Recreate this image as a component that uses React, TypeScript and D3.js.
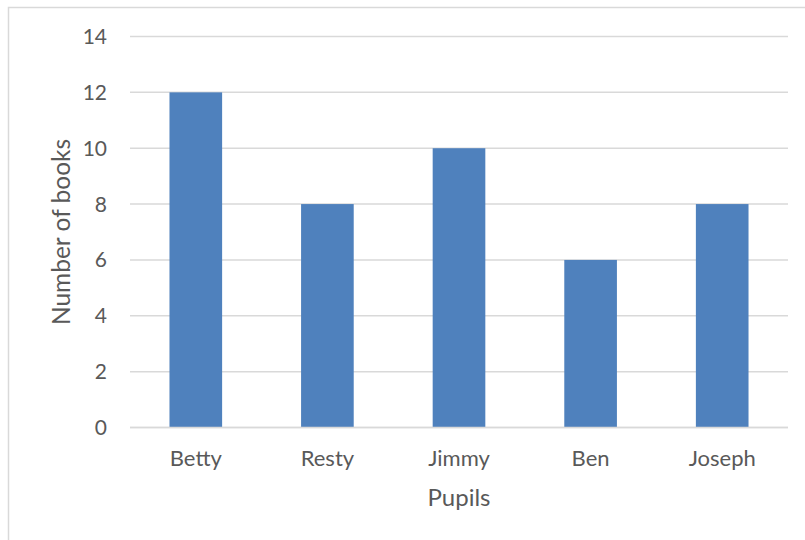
import React from "react";
import * as d3 from "d3";

const pupils = ["Betty", "Resty", "Jimmy", "Ben", "Joseph"];
const books = [12, 8, 10, 6, 8];
const yTicks = [0, 2, 4, 6, 8, 10, 12, 14];
const xTitle = "Pupils";
const yTitle = "Number of books";

const W = 805;
const H = 540;
const plot = { left: 130, right: 788, top: 36.5, bottom: 427.5 };
const FONT = "Lato, 'Open Sans', sans-serif";
const TEXT = "#595959";

export default function App() {
  const x = d3
    .scaleBand<string>()
    .domain(pupils)
    .range([plot.left, plot.right])
    .paddingInner(0.6)
    .paddingOuter(0.3);
  const y = d3.scaleLinear().domain([0, 14]).range([plot.bottom, plot.top]);

  return (
    <svg
      width={W}
      height={H}
      style={{ position: "absolute", left: 0, top: 0, background: "#fff" }}
    >
      <rect x={8.5} y={7.5} width={W} height={H} fill="#fff" stroke="#d9d9d9" strokeWidth={1.5} />
      {yTicks.map((t) => (
        <g key={t}>
          <line
            x1={plot.left}
            x2={plot.right}
            y1={y(t)}
            y2={y(t)}
            stroke="#d9d9d9"
            strokeWidth={1.5}
          />
          <text
            x={107}
            y={y(t)}
            dy="0.36em"
            textAnchor="end"
            fontFamily={FONT}
            fontSize={21}
            fill={TEXT}
          >
            {t}
          </text>
        </g>
      ))}
      {pupils.map((p, i) => (
        <g key={p}>
          <rect
            x={x(p)!}
            y={y(books[i])}
            width={x.bandwidth()}
            height={y(0) - y(books[i])}
            fill="#4f81bd"
          />
          <text
            x={x(p)! + x.bandwidth() / 2}
            y={458}
            dy="0.36em"
            textAnchor="middle"
            fontFamily={FONT}
            fontSize={22}
            fill={TEXT}
          >
            {p}
          </text>
        </g>
      ))}
      <line x1={plot.left} x2={plot.right} y1={y(0)} y2={y(0)} stroke="#d9d9d9" strokeWidth={1.5} />
      <text
        x={(plot.left + plot.right) / 2}
        y={497}
        dy="0.36em"
        textAnchor="middle"
        fontFamily={FONT}
        fontSize={24}
        fill={TEXT}
      >
        {xTitle}
      </text>
      <text
        transform={`translate(61, ${(plot.top + plot.bottom) / 2}) rotate(-90)`}
        dy="0.36em"
        textAnchor="middle"
        fontFamily={FONT}
        fontSize={24.5}
        fill={TEXT}
      >
        {yTitle}
      </text>
    </svg>
  );
}
